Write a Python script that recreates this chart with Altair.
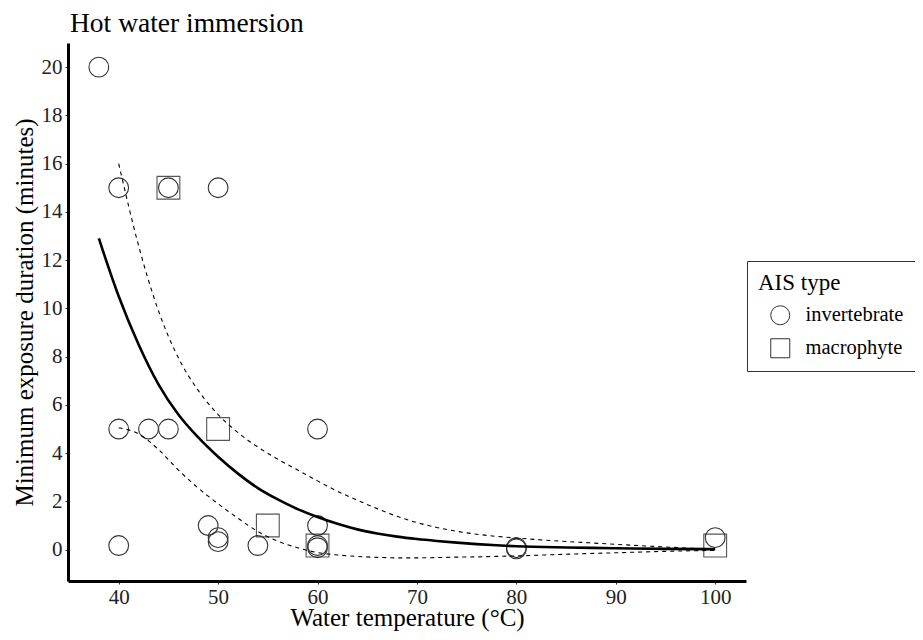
import altair as alt
import pandas as pd

# Observed points
inv_x = [38, 40, 45, 50, 40, 43, 45, 60, 40, 49, 50, 50, 54, 60, 60, 60, 80, 80, 100]
inv_y = [20, 15, 15, 15, 5, 5, 5, 5, 0.17, 1, 0.5, 0.33, 0.17, 1, 0.17, 0.08, 0.08, 0.03, 0.5]
mac_x = [45, 50, 55, 60, 100]
mac_y = [15, 5, 1, 0.17, 0.17]

# Fitted curve
fit_x = [38, 40, 42, 44, 46, 48, 50, 52, 54, 56, 58, 60, 62, 64, 66, 68, 70, 72, 74, 76, 78, 80, 85, 90, 95, 100]
fit_y = [12.9, 10.5, 8.5, 6.85, 5.6, 4.65, 3.85, 3.15, 2.55, 2.08, 1.68, 1.35, 1.07, 0.84, 0.67, 0.54, 0.44, 0.36, 0.29, 0.23, 0.18, 0.14, 0.09, 0.06, 0.03, 0.02]

# Confidence band edges
ci_x = [40, 42, 44, 46, 48, 50, 52, 54, 56, 58, 60, 62, 64, 66, 68, 70, 72, 74, 76, 78, 80, 85, 90, 95, 100]
upper_y = [16.0, 12.6, 9.9, 7.95, 6.6, 5.6, 4.85, 4.25, 3.75, 3.3, 2.85, 2.42, 2.05, 1.70, 1.38, 1.12, 0.92, 0.76, 0.64, 0.55, 0.48, 0.34, 0.22, 0.11, 0.01]
lower_y = [5.05, 4.8, 4.15, 3.3, 2.55, 1.9, 1.3, 0.75, 0.35, 0.08, -0.12, -0.22, -0.28, -0.32, -0.34, -0.34, -0.33, -0.31, -0.30, -0.28, -0.26, -0.19, -0.13, -0.07, -0.03]

FONT = "Liberation Serif"
TYPES = ["invertebrate", "macrophyte"]

inv = pd.DataFrame({"x": inv_x, "y": inv_y, "type": TYPES[0]})
mac = pd.DataFrame({"x": mac_x, "y": mac_y, "type": TYPES[1]})
fit = pd.DataFrame({"x": fit_x, "y": fit_y})
up = pd.DataFrame({"x": ci_x, "y": upper_y})
lo = pd.DataFrame({"x": ci_x, "y": lower_y})

xscale = alt.Scale(domain=[34.9, 103.1], nice=False, zero=False)
yscale = alt.Scale(domain=[-1.3, 21.0], nice=False, zero=False)

xax = alt.Axis(values=[40, 50, 60, 70, 80, 90, 100], title="Water temperature (°C)", grid=False,
               titlePadding=-2, labelPadding=2)
yax = alt.Axis(values=list(range(0, 21, 2)), title="Minimum exposure duration (minutes)", grid=False,
               titlePadding=4)

shape_enc = alt.Shape("type:N", title="AIS type",
                      scale=alt.Scale(domain=TYPES, range=["circle", "square"]))

sq_layer = alt.Chart(mac).mark_point(filled=False, strokeWidth=1.1, opacity=1, size=520, color="#555555").encode(
    x=alt.X("x:Q", scale=xscale, axis=xax),
    y=alt.Y("y:Q", scale=yscale, axis=yax),
    shape=shape_enc,
)
ci_layer = alt.Chart(inv).mark_point(filled=False, strokeWidth=1.1, opacity=1, size=390, color="#333333").encode(
    x=alt.X("x:Q", scale=xscale),
    y=alt.Y("y:Q", scale=yscale),
    shape=shape_enc,
)

fit_line = alt.Chart(fit).mark_line(color="black", strokeWidth=2.6, interpolate="monotone").encode(
    x=alt.X("x:Q", scale=xscale), y=alt.Y("y:Q", scale=yscale))
up_line = alt.Chart(up).mark_line(color="black", strokeWidth=1.1, strokeDash=[4, 4], interpolate="monotone").encode(
    x=alt.X("x:Q", scale=xscale), y=alt.Y("y:Q", scale=yscale))
lo_line = alt.Chart(lo).mark_line(color="black", strokeWidth=1.1, strokeDash=[4, 4], interpolate="monotone").encode(
    x=alt.X("x:Q", scale=xscale), y=alt.Y("y:Q", scale=yscale))

chart = alt.layer(sq_layer, ci_layer, up_line, lo_line, fit_line).properties(
    width=678, height=538,
    autosize=alt.AutoSizeParams(type="none"),
    padding={"left": 60, "top": 35, "right": 169, "bottom": 51},
    title=alt.TitleParams("Hot water immersion", anchor="start", frame="group", dx=2,
                          font=FONT, fontSize=27.5, fontWeight="normal", color="black", offset=6),
).configure_view(stroke=None).configure_axis(
    domainColor="black", domainWidth=3, tickColor="#333333", tickWidth=1, tickSize=3,
    labelFont=FONT, labelFontSize=21, labelColor="#222222", labelPadding=3,
    titleFont=FONT, titleFontSize=25, titleFontWeight="normal", titleColor="black",
).configure_legend(
    orient="none", legendX=679, legendY=218,
    strokeColor="#333333", strokeWidth=1, padding=11,
    titleFont=FONT, titleFontSize=23, titleFontWeight="normal", titleColor="black", titlePadding=10,
    labelFont=FONT, labelFontSize=20.5, labelColor="black", labelOffset=15,
    symbolSize=361, symbolOffset=12, symbolStrokeColor="#333333", symbolStrokeWidth=1,
    symbolFillColor="transparent", rowPadding=9,
)

chart.save("out.html", embed_options={"renderer": "svg", "actions": False})
